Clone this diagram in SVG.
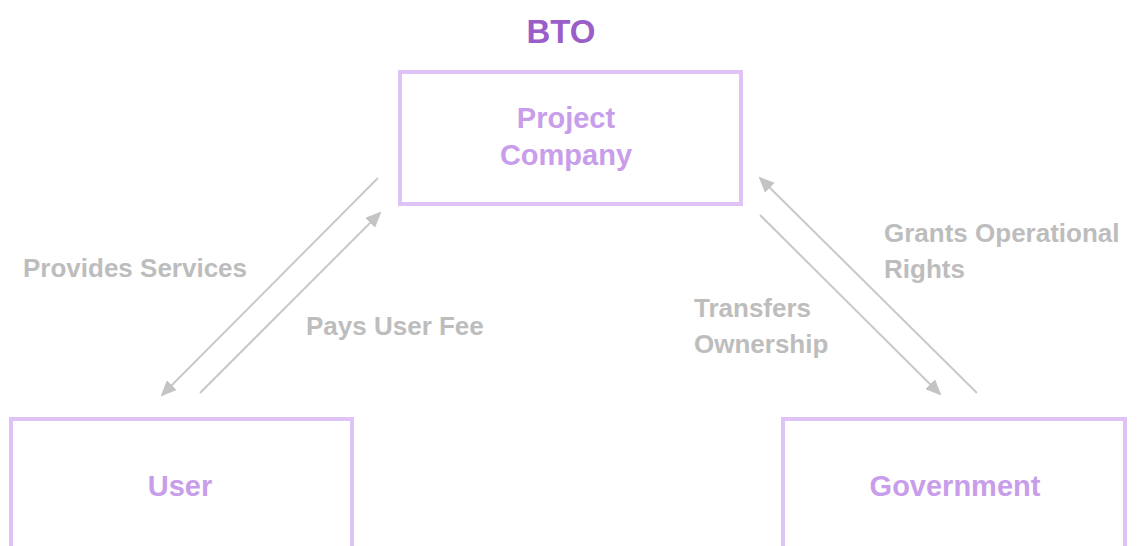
<svg xmlns="http://www.w3.org/2000/svg" width="1138" height="546" viewBox="0 0 1138 546">
<style>
.box{fill:#fff;stroke:#dfc3f6;stroke-width:4}
.nt{font-family:"Liberation Sans",Arial,sans-serif;font-weight:bold;font-size:29px;fill:#c89de9;text-anchor:middle}
.lb{font-family:"Liberation Sans",Arial,sans-serif;font-weight:bold;font-size:26px;fill:#bdbdbd}
.ln{stroke:#c9c9c9;stroke-width:2;fill:none;marker-end:url(#ah)}
</style>
<defs>
<marker id="ah" markerUnits="userSpaceOnUse" markerWidth="16" markerHeight="14" refX="14" refY="7" orient="auto">
<path d="M0,0 L16,7 L0,14 Z" fill="#c4c4c4"/>
</marker>
</defs>
<text x="561" y="43" style="font-family:'Liberation Sans',Arial,sans-serif;font-weight:bold;font-size:33px;fill:#9a5ec9;text-anchor:middle">BTO</text>
<g id="project-company">
<rect class="box" x="400" y="72" width="341" height="132"/>
<text class="nt" x="566" y="128">Project</text>
<text class="nt" x="566" y="165">Company</text>
</g>
<g id="user">
<rect class="box" x="11" y="419" width="341" height="140"/>
<text class="nt" x="180" y="496">User</text>
</g>
<g id="government">
<rect class="box" x="783" y="419" width="342" height="140"/>
<text class="nt" x="955" y="496">Government</text>
</g>
<g id="connectors">
<line class="ln" x1="378" y1="178" x2="162" y2="395"/>
<line class="ln" x1="200" y1="393" x2="380" y2="213"/>
<line class="ln" x1="977" y1="393" x2="760" y2="178"/>
<line class="ln" x1="760" y1="215" x2="940" y2="394"/>
<text class="lb" x="23" y="277">Provides Services</text>
<text class="lb" x="306" y="335">Pays User Fee</text>
<text class="lb" x="884" y="242">Grants Operational</text>
<text class="lb" x="884" y="278">Rights</text>
<text class="lb" x="694" y="317">Transfers</text>
<text class="lb" x="694" y="353">Ownership</text>
</g>
</svg>
